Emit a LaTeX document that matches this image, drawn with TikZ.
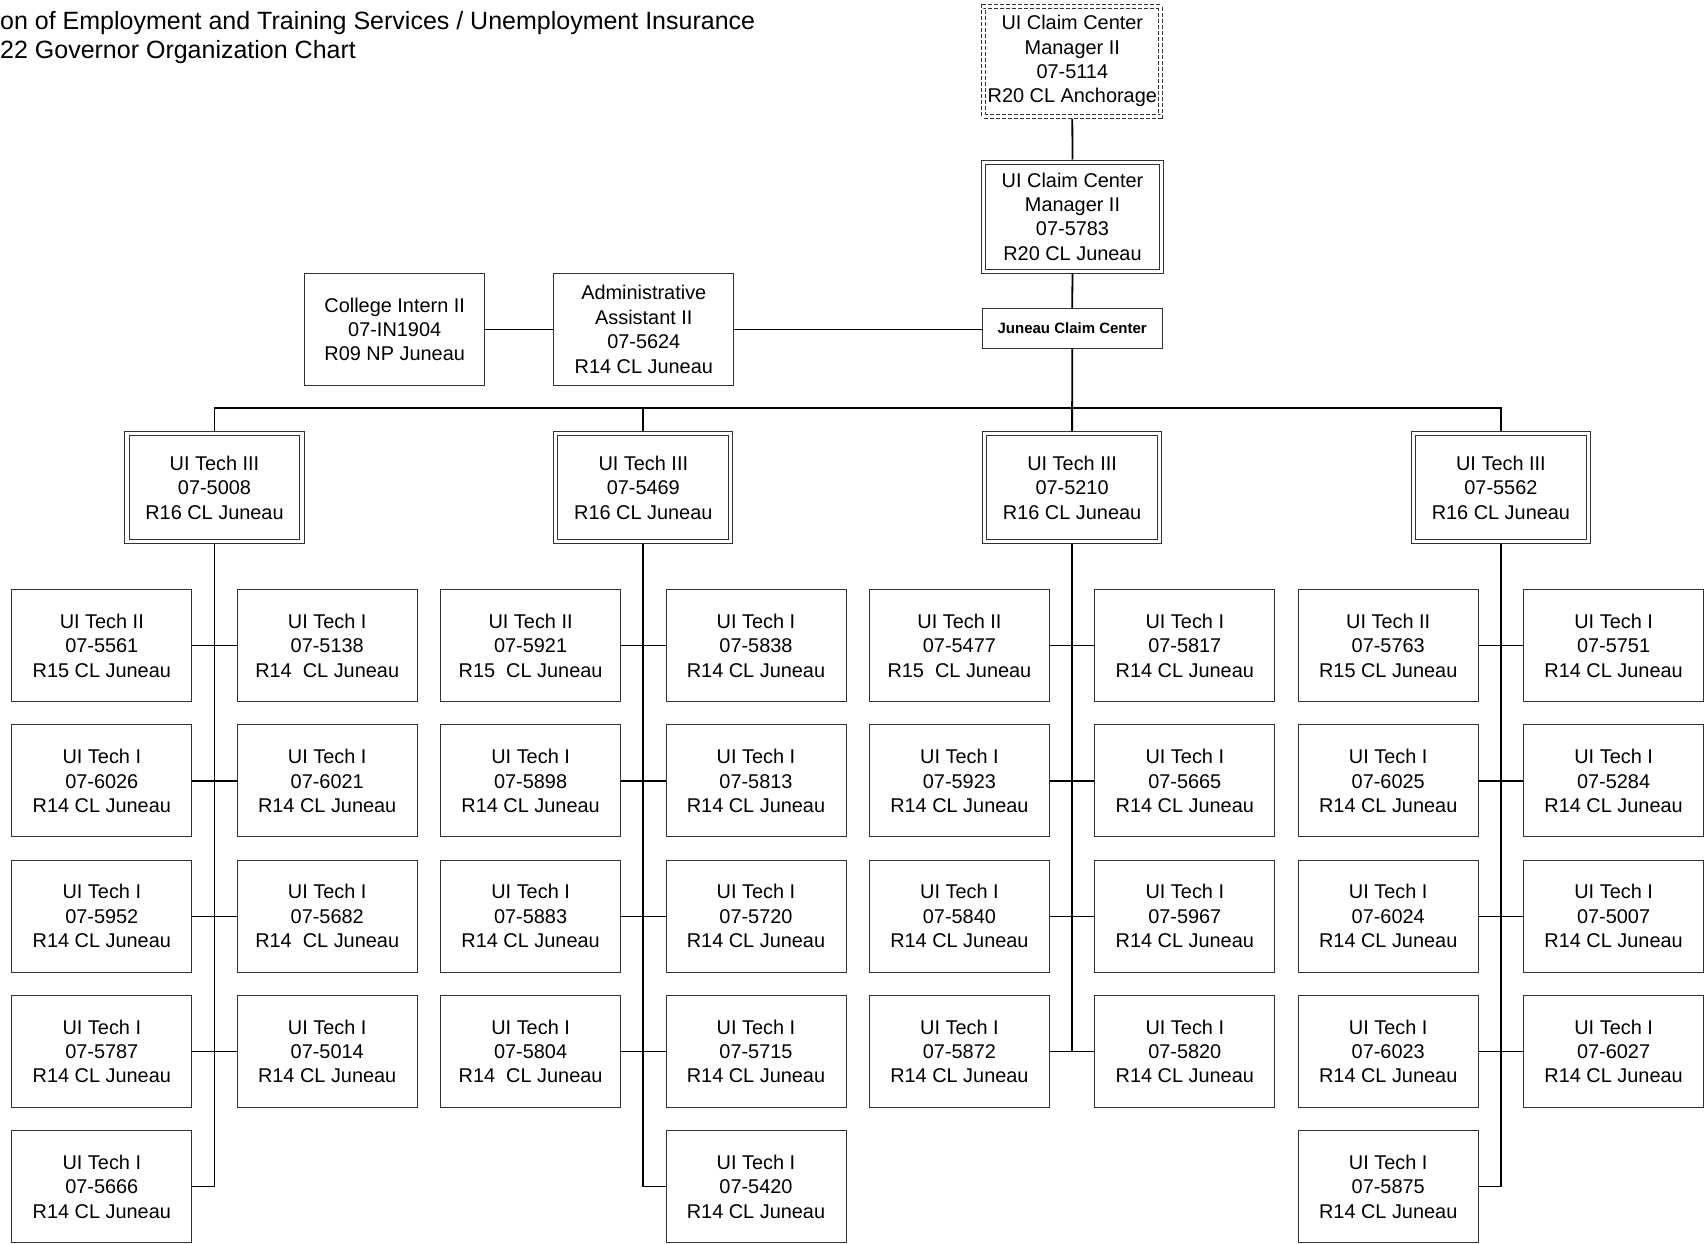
\documentclass[tikz,border=0pt]{standalone}
\usepackage{fontspec}
\setmainfont{Liberation Sans}
\begin{document}
\begin{tikzpicture}[x=1pt,y=-1pt,
  box/.style={draw=black!80, line width=1pt, minimum width=180pt, minimum height=112pt, inner sep=0pt, align=center, font=\fontsize{19.9}{24.4}\selectfont},
  dbox/.style={box, double, double distance=3.2pt, minimum width=175pt, minimum height=108pt, outer sep=2.6pt},
  spine/.style={line width=1.8pt},
  conn/.style={line width=1.2pt},
  ttl/.style={anchor=base west, inner sep=0pt, font=\fontsize{25}{30}\selectfont}]
\useasboundingbox (0,0) rectangle (1705,1244);

% title (cut at the left edge, as in the reference)
\node[ttl] (ttl1) at (0,29.5) {on of Employment and Training Services / Unemployment Insurance};
\node[ttl] (ttl2) at (0,59) {22 Governor Organization Chart};

% top of the chart
\node[dbox, dashed, dash pattern=on 4pt off 2pt, minimum width=177pt, minimum height=110pt] (top) at (1072.3,61.2) {UI Claim Center\\Manager II\\07-5114\\R20 CL Anchorage};
\node[dbox, minimum width=177.5pt, minimum height=109pt] (mgr) at (1072.5,216.6) {UI Claim Center\\Manager II\\07-5783\\R20 CL Juneau};
\node[box, minimum width=180pt, minimum height=40pt, font=\fontsize{15}{18}\selectfont\bfseries] (jcc) at (1072.2,328.5) {Juneau Claim Center};
\node[box] (adm) at (643.8,329.3) {Administrative\\Assistant II\\07-5624\\R14 CL Juneau};
\node[box] (ci) at (394.7,329.3) {College Intern II\\07-IN1904\\R09 NP Juneau};

% UI Tech III
\node[dbox] (u1) at (214.5,487.5) {UI Tech III\\07-5008\\R16 CL Juneau};
\node[dbox] (u2) at (643.3,487.5) {UI Tech III\\07-5469\\R16 CL Juneau};
\node[dbox] (u3) at (1072.1,487.5) {UI Tech III\\07-5210\\R16 CL Juneau};
\node[dbox] (u4) at (1500.9,487.5) {UI Tech III\\07-5562\\R16 CL Juneau};

% group 1
\node[box] (g1a1) at (101.8,645.7) {UI Tech II\\07-5561\\R15 CL Juneau};
\node[box] (g1b1) at (327.2,645.7) {UI Tech I\\07-5138\\R14\ \ CL Juneau};
\node[box] (g1a2) at (101.8,780.9) {UI Tech I\\07-6026\\R14 CL Juneau};
\node[box] (g1b2) at (327.2,780.9) {UI Tech I\\07-6021\\R14 CL Juneau};
\node[box] (g1a3) at (101.8,916.1) {UI Tech I\\07-5952\\R14 CL Juneau};
\node[box] (g1b3) at (327.2,916.1) {UI Tech I\\07-5682\\R14\ \ CL Juneau};
\node[box] (g1a4) at (101.8,1051.3) {UI Tech I\\07-5787\\R14 CL Juneau};
\node[box] (g1b4) at (327.2,1051.3) {UI Tech I\\07-5014\\R14 CL Juneau};
\node[box] (g1a5) at (101.8,1186.5) {UI Tech I\\07-5666\\R14 CL Juneau};

% group 2
\node[box] (g2a1) at (530.6,645.7) {UI Tech II\\07-5921\\R15\ \ CL Juneau};
\node[box] (g2b1) at (756.0,645.7) {UI Tech I\\07-5838\\R14 CL Juneau};
\node[box] (g2a2) at (530.6,780.9) {UI Tech I\\07-5898\\R14 CL Juneau};
\node[box] (g2b2) at (756.0,780.9) {UI Tech I\\07-5813\\R14 CL Juneau};
\node[box] (g2a3) at (530.6,916.1) {UI Tech I\\07-5883\\R14 CL Juneau};
\node[box] (g2b3) at (756.0,916.1) {UI Tech I\\07-5720\\R14 CL Juneau};
\node[box] (g2a4) at (530.6,1051.3) {UI Tech I\\07-5804\\R14\ \ CL Juneau};
\node[box] (g2b4) at (756.0,1051.3) {UI Tech I\\07-5715\\R14 CL Juneau};
\node[box] (g2b5) at (756.0,1186.5) {UI Tech I\\07-5420\\R14 CL Juneau};

% group 3
\node[box] (g3a1) at (959.4,645.7) {UI Tech II\\07-5477\\R15\ \ CL Juneau};
\node[box] (g3b1) at (1184.8,645.7) {UI Tech I\\07-5817\\R14 CL Juneau};
\node[box] (g3a2) at (959.4,780.9) {UI Tech I\\07-5923\\R14 CL Juneau};
\node[box] (g3b2) at (1184.8,780.9) {UI Tech I\\07-5665\\R14 CL Juneau};
\node[box] (g3a3) at (959.4,916.1) {UI Tech I\\07-5840\\R14 CL Juneau};
\node[box] (g3b3) at (1184.8,916.1) {UI Tech I\\07-5967\\R14 CL Juneau};
\node[box] (g3a4) at (959.4,1051.3) {UI Tech I\\07-5872\\R14 CL Juneau};
\node[box] (g3b4) at (1184.8,1051.3) {UI Tech I\\07-5820\\R14 CL Juneau};

% group 4
\node[box] (g4a1) at (1388.2,645.7) {UI Tech II\\07-5763\\R15 CL Juneau};
\node[box] (g4b1) at (1613.6,645.7) {UI Tech I\\07-5751\\R14 CL Juneau};
\node[box] (g4a2) at (1388.2,780.9) {UI Tech I\\07-6025\\R14 CL Juneau};
\node[box] (g4b2) at (1613.6,780.9) {UI Tech I\\07-5284\\R14 CL Juneau};
\node[box] (g4a3) at (1388.2,916.1) {UI Tech I\\07-6024\\R14 CL Juneau};
\node[box] (g4b3) at (1613.6,916.1) {UI Tech I\\07-5007\\R14 CL Juneau};
\node[box] (g4a4) at (1388.2,1051.3) {UI Tech I\\07-6023\\R14 CL Juneau};
\node[box] (g4b4) at (1613.6,1051.3) {UI Tech I\\07-6027\\R14 CL Juneau};
\node[box] (g4a5) at (1388.2,1186.5) {UI Tech I\\07-5875\\R14 CL Juneau};

% connectors
\coordinate (bus) at (0,408.3);
\draw[spine] (top.south) -- (mgr.north);
\draw[spine] (mgr.south) -- (jcc.north);
\draw[spine] (jcc.south) -- (u3.north);
\draw[spine] (u1.north) -- (u1.north |- bus) -- (u4.north |- bus) -- (u4.north);
\draw[spine] (u2.north) -- (u2.north |- bus);
\draw[conn] (adm.east) -- (adm.east -| jcc.west);
\draw[conn] (ci.east) -- (adm.west);

\foreach \g in {1,2,3,4}{
  \foreach \r in {1,2,3,4}{
    \draw[conn] (g\g a\r.east) -- (g\g b\r.west);
  }
}
\draw[spine] (u1.south) |- (g1a5.east);
\draw[spine] (u2.south) |- (g2b5.west);
\draw[spine] (u3.south) -- (u3.south |- g3a4.east);
\draw[spine] (u4.south) |- (g4a5.east);
\end{tikzpicture}
\end{document}
